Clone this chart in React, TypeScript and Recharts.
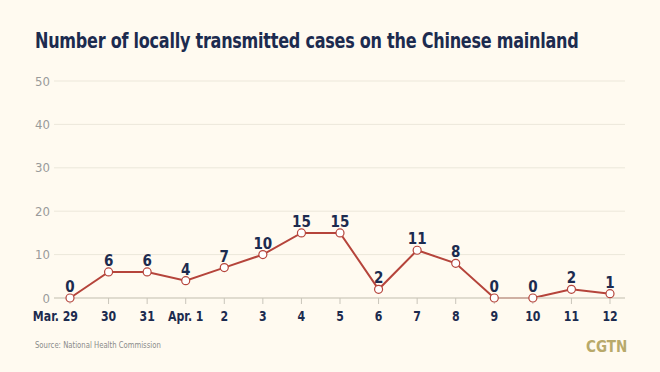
import { LineChart, Line, XAxis, YAxis, CartesianGrid, LabelList } from "recharts";

const DAYS = ["Mar. 29", "30", "31", "Apr. 1", "2", "3", "4", "5", "6", "7", "8", "9", "10", "11", "12"];
const CASES = [0, 6, 6, 4, 7, 10, 15, 15, 2, 11, 8, 0, 0, 2, 1];
const Y_TICKS = [0, 10, 20, 30, 40, 50];

const NAVY = "#1c2b4f";
const RED = "#b5443b";
const BG = "#fffaf0";
const FONT = "'DejaVu Sans Condensed', 'DejaVu Sans', sans-serif";

const data = DAYS.map((day, i) => ({ day, cases: CASES[i] }));

// condensed bold day labels; the first one sits left of its tick like the original
function DayTick(props: any) {
  const { x, y, payload, index } = props;
  const first = index === 0;
  const tx = first ? x + 8 : x;
  return (
    <g transform={`translate(${tx},${y}) scale(0.84,1)`}>
      <text
        x={0}
        y={0}
        dy={14}
        textAnchor={first ? "end" : "middle"}
        fill={NAVY}
        fontSize={14.5}
        fontWeight={700}
        fontFamily={FONT}
      >
        {payload.value}
      </text>
    </g>
  );
}

export default function App() {
  return (
    <div
      style={{
        position: "fixed",
        top: 0,
        left: 0,
        width: 660,
        height: 372,
        background: BG,
        fontFamily: FONT,
        overflow: "hidden",
      }}
    >
      <div
        style={{
          position: "absolute",
          left: 35,
          top: 29,
          fontSize: 21,
          fontWeight: 700,
          color: NAVY,
          whiteSpace: "nowrap",
          letterSpacing: -0.3,
          transform: "scaleX(0.85)",
          transformOrigin: "left top",
        }}
      >
        Number of locally transmitted cases on the Chinese mainland
      </div>
      <LineChart width={660} height={372} data={data} margin={{ top: 81, right: 35, bottom: 44, left: 0 }}>
        <CartesianGrid vertical={false} stroke="#ece7da" />
        <XAxis
          dataKey="day"
          height={30}
          padding={{ left: 16, right: 15 }}
          interval={0}
          axisLine={{ stroke: "#d9d5c7", strokeWidth: 1.5 }}
          tickLine={{ stroke: "#c9c5ba" }}
          tickSize={6}
          tickMargin={3}
          tick={<DayTick />}
        />
        <YAxis
          width={54}
          domain={[0, 50]}
          ticks={Y_TICKS}
          axisLine={false}
          tickLine={false}
          tickSize={0}
          tickMargin={4}
          tick={{ fill: "#9a9a9a", fontSize: 13, fontFamily: FONT }}
        />
        <Line
          dataKey="cases"
          stroke={RED}
          strokeWidth={2}
          dot={{ r: 4, fill: "#fff", stroke: RED, strokeWidth: 1.2 }}
          isAnimationActive={false}
        >
          <LabelList
            dataKey="cases"
            position="top"
            offset={6}
            style={{ fill: NAVY, fontSize: 15, fontWeight: 700, fontFamily: FONT }}
          />
        </Line>
      </LineChart>
      <div
        style={{
          position: "absolute",
          left: 35,
          top: 340,
          fontSize: 9,
          color: "#8a8a8a",
          whiteSpace: "nowrap",
          transform: "scaleX(0.85)",
          transformOrigin: "left top",
        }}
      >
        Source: National Health Commission
      </div>
      <div
        style={{ position: "absolute", left: 586, top: 338, fontSize: 15, fontWeight: 700, color: "#b8a96a" }}
      >
        CGTN
      </div>
    </div>
  );
}
